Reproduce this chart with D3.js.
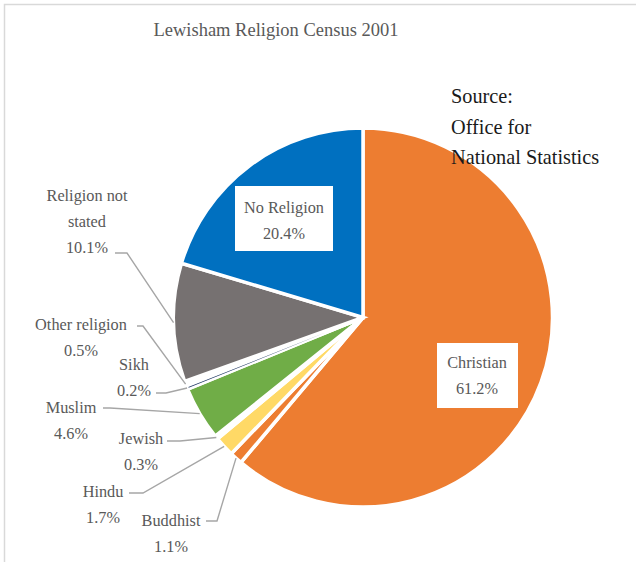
<!DOCTYPE html>
<html>
<head>
<meta charset="utf-8">
<script src="https://cdn.jsdelivr.net/npm/d3@7"></script>
<style>
  html, body { margin: 0; padding: 0; background: #fff; }
  svg { display: block; }
</style>
</head>
<body>
<svg id="chart" width="636" height="562"></svg>
<script>
// Lewisham, religion of residents (Census 2001), percent of population
const categories = ["Christian", "Buddhist", "Hindu", "Jewish", "Muslim", "Sikh",
                    "Other religion", "Religion not stated", "No Religion"];
const shares = [61.2, 1.1, 1.7, 0.3, 4.6, 0.2, 0.5, 10.1, 20.4];

// slice colours, same order as categories
const palette = ["#ED7D31", "#ED7D31", "#FFD966", "#F2F2F2", "#70AD47", "#203864",
                 "#FFFFFF", "#767171", "#0070C0"];

const titleText = "Lewisham Religion Census 2001";
const sourceLines = ["Source:", "Office for", "National Statistics"];

// label placement: text centre x, first line centre y, and leader start / elbow
const labelLayout = {
  "Christian":           { x: 477, y: 362, box: [437, 343, 81, 65] },
  "No Religion":         { x: 284, y: 207, box: [235, 186, 98, 65] },
  "Religion not stated": { x: 87,  y: 195, lines: ["Religion not", "stated"], lead: [[115, 253], [127, 253]] },
  "Other religion":      { x: 81,  y: 324, lead: [[137, 326], [143, 326]] },
  "Sikh":                { x: 134, y: 364, lead: [[156, 393], [166, 393]] },
  "Muslim":              { x: 71,  y: 407, lead: [[103, 408], [110, 408]] },
  "Jewish":              { x: 141, y: 438, lead: [[167, 441], [180, 441]] },
  "Hindu":               { x: 103, y: 491, lead: [[129, 493], [143, 493]] },
  "Buddhist":            { x: 171, y: 520, lead: [[206, 521], [217, 521]] }
};

const svg = d3.select("#chart");
const cx = 363, cy = 317.5, radius = 189.5;
const font = "'Liberation Serif', 'Times New Roman', serif";

// frame
svg.append("path")
  .attr("d", "M4.5,562 V4.5 H636")
  .attr("fill", "none")
  .attr("stroke", "#D9D9D9")
  .attr("stroke-width", 1.5);

// title
svg.append("text")
  .attr("x", 276).attr("y", 30).attr("dy", "0.35em")
  .attr("text-anchor", "middle")
  .attr("font-family", font).attr("font-size", 18.5)
  .attr("fill", "#595959")
  .text(titleText);

const data = categories.map((c, i) => ({ name: c, value: shares[i], color: palette[i] }));

const pie = d3.pie().sort(null).value(d => d.value).startAngle(0).endAngle(2 * Math.PI);
const arcs = pie(data);
const arc = d3.arc().innerRadius(0).outerRadius(radius);

const g = svg.append("g").attr("transform", `translate(${cx},${cy})`);

g.selectAll("path.slice").data(arcs).join("path")
  .attr("class", "slice")
  .attr("d", arc)
  .attr("fill", d => d.data.color)
  .attr("stroke", "#FFFFFF")
  .attr("stroke-width", 3.5)
  .attr("stroke-linejoin", "miter");

// very thin slices are redrawn on top so they stay visible between the gaps
g.selectAll("path.thin").data(arcs.filter(d => d.data.name === "Sikh")).join("path")
  .attr("class", "thin")
  .attr("d", d3.arc().innerRadius(radius * 0.22).outerRadius(radius - 1.5)
    .startAngle(d => (d.startAngle + d.endAngle) / 2 - 0.002)
    .endAngle(d => (d.startAngle + d.endAngle) / 2 + 0.002))
  .attr("fill", d => d.data.color);

// source note, drawn over the pie
svg.append("g").selectAll("text").data(sourceLines).join("text")
  .attr("x", 451).attr("y", (d, i) => 96 + i * 30.5).attr("dy", "0.35em")
  .attr("font-family", font).attr("font-size", 20.3)
  .attr("fill", "#1A1A1A")
  .text(d => d);

// point on the rim at the middle of each slice
function rimPoint(d) {
  const a = (d.startAngle + d.endAngle) / 2;
  return [cx + radius * Math.sin(a), cy - radius * Math.cos(a)];
}

const labelFont = 16.3;
const lineGap = 26;

arcs.forEach(d => {
  const lay = labelLayout[d.data.name];
  const lines = (lay.lines || [d.data.name]).concat([d3.format(".1f")(d.data.value) + "%"]);

  if (lay.box) {
    svg.append("rect")
      .attr("x", lay.box[0]).attr("y", lay.box[1])
      .attr("width", lay.box[2]).attr("height", lay.box[3])
      .attr("fill", "#FFFFFF");
  }
  if (lay.lead) {
    const pts = lay.lead.concat([rimPoint(d)]);
    svg.append("path")
      .attr("d", d3.line()(pts))
      .attr("fill", "none")
      .attr("stroke", "#A6A6A6")
      .attr("stroke-width", 1.4);
  }
  svg.append("g").selectAll("text").data(lines).join("text")
    .attr("x", lay.x).attr("y", (t, i) => lay.y + i * lineGap).attr("dy", "0.35em")
    .attr("text-anchor", "middle")
    .attr("font-family", font).attr("font-size", labelFont)
    .attr("fill", "#595959")
    .text(t => t);
});
</script>
</body>
</html>
